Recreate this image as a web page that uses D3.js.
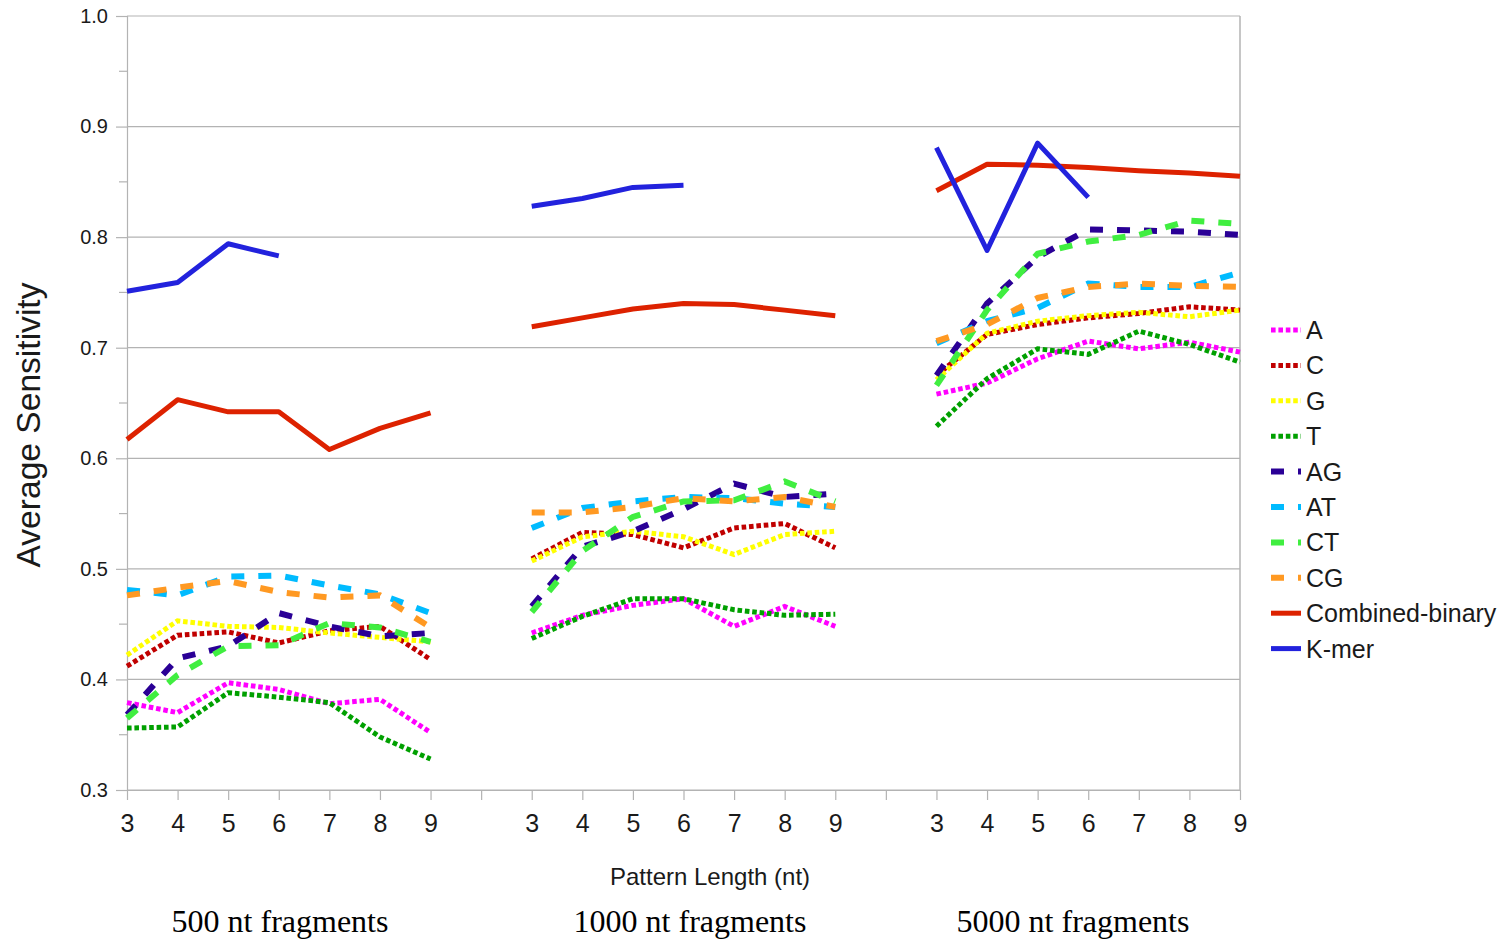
<!DOCTYPE html>
<html>
<head>
<meta charset="utf-8">
<script src="https://cdn.jsdelivr.net/npm/d3@7"></script>
<style>
  html, body { margin: 0; padding: 0; background: #fff; }
  svg { display: block; font-family: "Liberation Sans", Arial, sans-serif; }
</style>
</head>
<body>
<svg id="chart" width="1504" height="944"></svg>
<script>
// Pattern lengths shown within each fragment-size block
const patternLengths = ["3", "4", "5", "6", "7", "8", "9"];
const fragmentGroups = ["500 nt fragments", "1000 nt fragments", "5000 nt fragments"];
const yTicks = [0.3, 0.4, 0.5, 0.6, 0.7, 0.8, 0.9, 1.0];

// Average sensitivity per series: 7 lengths x 3 fragment sizes
const seriesA  = [0.379,0.370,0.397,0.391,0.378,0.382,0.352, 0.442,0.458,0.467,0.473,0.448,0.466,0.448, 0.658,0.668,0.690,0.706,0.699,0.705,0.696];
const seriesC  = [0.412,0.440,0.443,0.433,0.444,0.448,0.418, 0.509,0.533,0.531,0.519,0.537,0.541,0.519, 0.675,0.712,0.721,0.727,0.731,0.737,0.734];
const seriesG  = [0.422,0.453,0.448,0.447,0.442,0.438,0.434, 0.507,0.529,0.534,0.529,0.513,0.531,0.534, 0.671,0.713,0.724,0.729,0.732,0.728,0.734];
const seriesT  = [0.356,0.357,0.388,0.384,0.379,0.348,0.328, 0.437,0.457,0.473,0.473,0.463,0.458,0.459, 0.629,0.672,0.699,0.694,0.715,0.703,0.687];
const seriesAG = [0.368,0.419,0.430,0.460,0.448,0.439,0.442, 0.466,0.520,0.534,0.554,0.577,0.565,0.568, 0.675,0.740,0.782,0.807,0.806,0.805,0.802];
const seriesAT = [0.481,0.476,0.493,0.494,0.485,0.477,0.460, 0.537,0.555,0.561,0.565,0.564,0.559,0.556, 0.704,0.724,0.736,0.758,0.755,0.755,0.768];
const seriesCT = [0.365,0.404,0.430,0.431,0.451,0.447,0.434, 0.461,0.516,0.547,0.561,0.562,0.579,0.561, 0.666,0.734,0.785,0.796,0.802,0.815,0.812];
const seriesCG = [0.476,0.483,0.489,0.479,0.474,0.476,0.447, 0.551,0.551,0.556,0.564,0.561,0.565,0.556, 0.706,0.721,0.745,0.755,0.758,0.756,0.755];
const seriesCombined = [0.617,0.653,0.642,0.642,0.608,0.627,0.641, 0.719,0.727,0.735,0.740,0.739,0.734,0.729, 0.842,0.866,0.865,0.863,0.860,0.858,0.855];
const seriesKmer = [0.751,0.759,0.794,0.783,null,null,null, 0.828,0.835,0.845,0.847,null,null,null, 0.881,0.788,0.885,0.836,null,null,null];

const DOT = "4.6,2.8", DASH = "13,14";
const seriesList = [
  { name: "A",  values: seriesA,  color: "#ff00ff", width: 5, dash: DOT },
  { name: "C",  values: seriesC,  color: "#c00000", width: 5, dash: DOT },
  { name: "G",  values: seriesG,  color: "#ffff00", width: 5, dash: DOT },
  { name: "T",  values: seriesT,  color: "#00a000", width: 5, dash: DOT },
  { name: "AG", values: seriesAG, color: "#2a0096", width: 6, dash: DASH },
  { name: "AT", values: seriesAT, color: "#00bbff", width: 6, dash: DASH },
  { name: "CT", values: seriesCT, color: "#40ee40", width: 6, dash: DASH },
  { name: "CG", values: seriesCG, color: "#ff9922", width: 6, dash: DASH },
  { name: "Combined-binary", values: seriesCombined, color: "#dd2200", width: 5, dash: null },
  { name: "K-mer", values: seriesKmer, color: "#2222dd", width: 5, dash: null }
];

// Category keys: each block of lengths, with an empty slot between blocks
const keys = [];
const keyLabel = {};
fragmentGroups.forEach((g, gi) => {
  patternLengths.forEach(l => {
    const k = gi + "-" + l;
    keys.push(k);
    keyLabel[k] = l;
  });
  if (gi < fragmentGroups.length - 1) {
    const k = "gap" + gi;
    keys.push(k);
    keyLabel[k] = "";
  }
});

const margin = { left: 127, right: 1240, top: 16, bottom: 790 };
const svg = d3.select("#chart");

const x = d3.scalePoint().domain(keys).range([margin.left, margin.right]).padding(0);
const y = d3.scaleLinear().domain([0.3, 1.0]).range([margin.bottom, margin.top]);

const gridColor = "#b3b3b3";

// horizontal grid
svg.append("g").selectAll("line").data(yTicks).join("line")
  .attr("x1", margin.left).attr("x2", margin.right)
  .attr("y1", d => y(d)).attr("y2", d => y(d))
  .attr("stroke", gridColor).attr("stroke-width", 1.2);

// right border
svg.append("line")
  .attr("x1", margin.right).attr("x2", margin.right)
  .attr("y1", margin.top).attr("y2", margin.bottom)
  .attr("stroke", gridColor).attr("stroke-width", 1.5);

// y axis
const yAxis = svg.append("g").attr("transform", `translate(${margin.left},0)`)
  .call(d3.axisLeft(y).tickValues(yTicks).tickFormat(d3.format(".1f")).tickSize(11).tickPadding(8));
yAxis.select(".domain").attr("stroke", gridColor).attr("stroke-width", 1.2);
yAxis.selectAll(".tick line").attr("stroke", gridColor).attr("stroke-width", 1.2);
yAxis.selectAll(".tick text").attr("font-size", 20).attr("fill", "#1a1a1a")
  .attr("font-family", "Liberation Sans, Arial, sans-serif");

// minor y ticks
const minor = d3.range(0.35, 1.0, 0.1);
svg.append("g").selectAll("line").data(minor).join("line")
  .attr("x1", margin.left - 8).attr("x2", margin.left)
  .attr("y1", d => y(d)).attr("y2", d => y(d))
  .attr("stroke", gridColor).attr("stroke-width", 1.2);

// x axis
const xAxis = svg.append("g").attr("transform", `translate(0,${margin.bottom})`)
  .call(d3.axisBottom(x).tickFormat(k => keyLabel[k]).tickSize(10).tickPadding(14).tickSizeOuter(0));
xAxis.select(".domain").attr("stroke", gridColor).attr("stroke-width", 1.2);
xAxis.selectAll(".tick line").attr("stroke", gridColor).attr("stroke-width", 1.2);
xAxis.selectAll(".tick text").attr("font-size", 25).attr("fill", "#1a1a1a")
  .attr("font-family", "Liberation Sans, Arial, sans-serif");

// series lines
const line = d3.line()
  .defined(d => d.v != null)
  .x(d => x(d.k))
  .y(d => y(d.v));

function seriesPoints(values) {
  const pts = [];
  let idx = 0;
  fragmentGroups.forEach((g, gi) => {
    patternLengths.forEach(l => {
      pts.push({ k: gi + "-" + l, v: values[idx++] });
    });
    if (gi < fragmentGroups.length - 1) pts.push({ k: "gap" + gi, v: null });
  });
  return pts;
}

svg.append("g").selectAll("path").data(seriesList).join("path")
  .attr("d", s => line(seriesPoints(s.values)))
  .attr("fill", "none")
  .attr("stroke", s => s.color)
  .attr("stroke-width", s => s.width)
  .attr("stroke-dasharray", s => s.dash)
  .attr("stroke-linejoin", s => s.dash ? "miter" : "round");

// legend
const legend = svg.append("g").attr("transform", "translate(1271,330)");
const rows = legend.selectAll("g").data(seriesList).join("g")
  .attr("transform", (d, i) => `translate(0,${i * 35.4})`);
rows.append("line")
  .attr("x1", 0).attr("x2", 30).attr("y1", 0).attr("y2", 0)
  .attr("stroke", d => d.color)
  .attr("stroke-width", d => d.width)
  .attr("stroke-dasharray", d => d.dash);
rows.append("text")
  .attr("x", 35).attr("y", 0).attr("dy", "0.36em")
  .attr("font-size", 25).attr("fill", "#1a1a1a")
  .text(d => d.name);

// axis titles
svg.append("text")
  .attr("x", 710).attr("y", 885)
  .attr("text-anchor", "middle")
  .attr("font-size", 24).attr("fill", "#1a1a1a")
  .text("Pattern Length (nt)");

svg.append("text")
  .attr("transform", "translate(40,425) rotate(-90)")
  .attr("text-anchor", "middle")
  .attr("font-size", 33.6).attr("fill", "#1a1a1a")
  .text("Average Sensitivity");

// fragment-size block labels
const blockCenters = [280, 690, 1073];
svg.append("g").selectAll("text").data(fragmentGroups).join("text")
  .attr("x", (d, i) => blockCenters[i]).attr("y", 932)
  .attr("text-anchor", "middle")
  .attr("font-family", "Liberation Serif, Times New Roman, serif")
  .attr("font-size", 32).attr("fill", "#000")
  .text(d => d);
</script>
</body>
</html>
